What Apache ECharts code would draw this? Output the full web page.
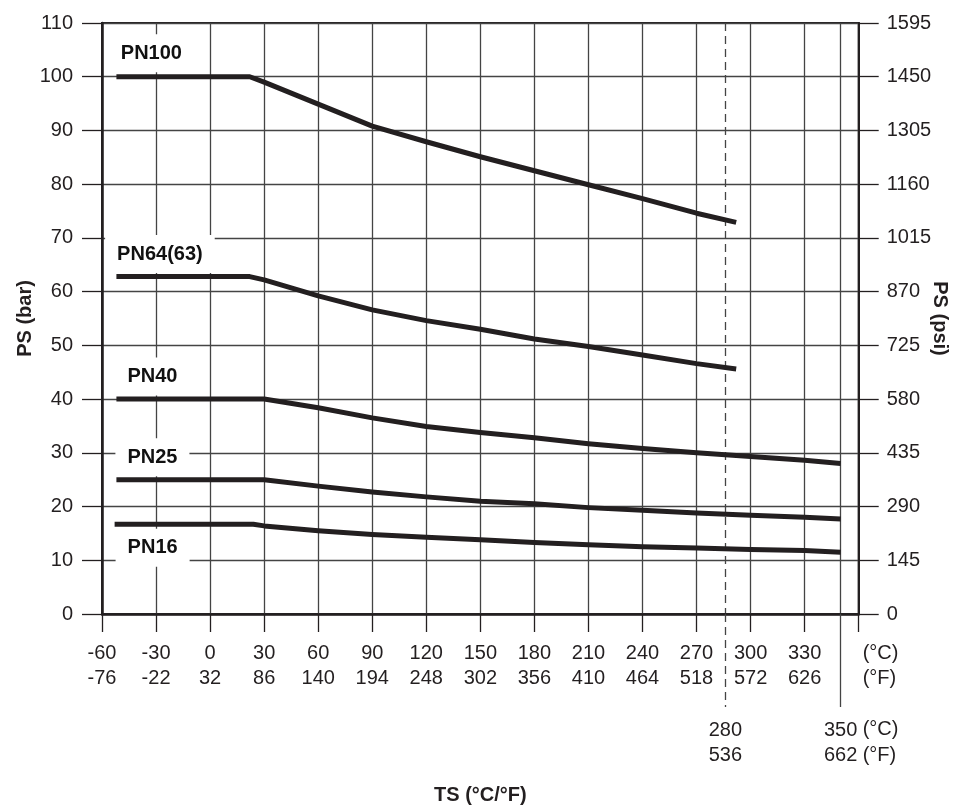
<!DOCTYPE html>
<html><head><meta charset="utf-8">
<script src="https://cdn.jsdelivr.net/npm/echarts@6/dist/echarts.min.js"></script>
<style>html,body{margin:0;padding:0;background:#fff}#c{width:953px;height:810px}</style>
</head><body><div id="c"></div>
<script>
// ---- tick labels ----
const xTicksC = [-60,-30,0,30,60,90,120,150,180,210,240,270,300,330];
const xTicksF = [-76,-22,32,86,140,194,248,302,356,410,464,518,572,626];
const yTicksBar = [0,10,20,30,40,50,60,70,80,90,100,110];
const yTicksPsi = [0,145,290,435,580,725,870,1015,1160,1305,1450,1595];
// marked temperatures (positions as drawn in the reference) and their labels
const refLineX = [286, 350];
const refLabelC = ['280', '350'];
const refLabelF = ['536', '662'];
// ---- series (TS °C, PS bar) ----
const seriesNames = ['PN100', 'PN64(63)', 'PN40', 'PN25', 'PN16'];
const pn100 = [[-52,100],[22,100],[30,99.0],[60,94.9],[90,90.8],[120,87.9],[150,85.1],[180,82.5],[210,79.9],[240,77.3],[270,74.6],[292,72.9]];
const pn64  = [[-52,62.8],[22,62.8],[30,62.2],[60,59.2],[90,56.6],[120,54.6],[150,53.0],[180,51.2],[210,49.8],[240,48.2],[270,46.6],[292,45.6]];
const pn40  = [[-52,40],[30,40],[60,38.4],[90,36.5],[120,34.9],[150,33.8],[180,32.8],[210,31.7],[240,30.8],[270,30.0],[300,29.3],[330,28.6],[350,28.0]];
const pn25  = [[-52,25],[30,25],[60,23.8],[90,22.7],[120,21.8],[150,21.0],[180,20.5],[210,19.8],[240,19.3],[270,18.8],[300,18.4],[330,18.0],[350,17.7]];
const pn16  = [[-53,16.7],[24,16.7],[30,16.4],[60,15.5],[90,14.8],[120,14.3],[150,13.8],[180,13.3],[210,12.9],[240,12.5],[270,12.3],[300,12.0],[330,11.8],[350,11.5]];
const seriesData = [pn100, pn64, pn40, pn25, pn16];

// label styling offsets (pixels from each curve's first point, box bottom-centre)
const labelOffsets = [[35,-4],[43.5,-3],[36,-3],[36,-3],[38,43]];

const INK = '#231f20';
const GRID = '#444';
const FONT = 'Liberation Sans, Arial, Helvetica, sans-serif';
const X_MIN = -60, X_MAX = 360;

const chart = echarts.init(document.getElementById('c'), null, {renderer: 'canvas'});

const baseX = {
  type: 'value', min: X_MIN, max: X_MAX, interval: 30, position: 'bottom', gridIndex: 0
};

const option = {
  animation: false,
  backgroundColor: '#fff',
  textStyle: {fontFamily: FONT, color: INK},
  grid: {
    left: 102, right: 94.3, top: 23, bottom: 196,
    containLabel: false, outerBoundsMode: 'none',
    show: true, borderColor: INK, borderWidth: 2, backgroundColor: 'transparent'
  },
  xAxis: [
    Object.assign({}, baseX, {
      name: 'TS (°C/°F)', nameLocation: 'middle', nameGap: 171, nameMoveOverlap: false,
      nameTextStyle: {fontSize: 20, fontWeight: 'bold', color: INK, fontFamily: FONT},
      axisLine: {show: true, onZero: false, lineStyle: {color: INK, width: 2.5}},
      axisTick: {show: true, inside: false, length: 18, lineStyle: {color: INK, width: 1.3}},
      splitLine: {show: true, lineStyle: {color: GRID, width: 1.3}},
      axisLabel: {
        show: true, margin: 26.25, fontSize: 20, lineHeight: 25.5, color: INK, fontFamily: FONT,
        showMinLabel: true, showMaxLabel: true, hideOverlap: false,
        formatter: function (v) {
          const i = xTicksC.indexOf(v);
          return i >= 0 ? xTicksC[i] + '\n' + xTicksF[i] : '';
        }
      }
    }),
    // dashed reference line (280 °C)
    Object.assign({}, baseX, {
      axisLine: {show: false},
      axisTick: {show: true, inside: false, length: 93, customValues: [refLineX[0]],
                 lineStyle: {color: GRID, width: 1.3, type: [8, 5]}},
      splitLine: {show: true, lineStyle: {color: GRID, width: 1.3, type: [8, 5]}},
      axisLabel: {
        show: true, customValues: refLineX, margin: 103.25, fontSize: 20, lineHeight: 25.5,
        color: INK, fontFamily: FONT, showMinLabel: true, showMaxLabel: true, hideOverlap: false,
        formatter: function (v) {
          const i = refLineX.indexOf(v);
          return i >= 0 ? refLabelC[i] + '\n' + refLabelF[i] : '';
        }
      }
    }),
    // solid reference line (350 °C)
    Object.assign({}, baseX, {
      axisLine: {show: false},
      axisTick: {show: true, inside: false, length: 93, customValues: [refLineX[1]],
                 lineStyle: {color: GRID, width: 1.3}},
      splitLine: {show: true, lineStyle: {color: GRID, width: 1.3}},
      axisLabel: {show: false}
    }),
    // unit labels at the right end
    Object.assign({}, baseX, {
      axisLine: {show: false},
      axisTick: {show: false},
      splitLine: {show: false},
      axisLabel: {
        show: true, customValues: [X_MAX], margin: 26.25, fontSize: 20, lineHeight: 25.5,
        color: INK, fontFamily: FONT, align: 'left', padding: [0, 0, 0, 4],
        showMinLabel: true, showMaxLabel: true, hideOverlap: false,
        formatter: function () { return '(°C)\n(°F)\n\n(°C)\n(°F)'; }
      }
    })
  ],
  yAxis: [
    {
      type: 'value', min: yTicksBar[0], max: yTicksBar[yTicksBar.length - 1], interval: yTicksBar[1] - yTicksBar[0],
      position: 'left',
      name: 'PS (bar)', nameLocation: 'middle', nameRotate: 90, nameGap: 67, nameMoveOverlap: false,
      nameTextStyle: {fontSize: 20, fontWeight: 'bold', color: INK, fontFamily: FONT},
      axisLine: {show: true, onZero: false, lineStyle: {color: INK, width: 2.5}},
      axisTick: {show: true, inside: false, length: 20, lineStyle: {color: INK, width: 1.3}},
      splitLine: {show: true, lineStyle: {color: GRID, width: 1.3}},
      axisLabel: {show: true, margin: 29, fontSize: 20, color: INK, fontFamily: FONT,
                  showMinLabel: true, showMaxLabel: true,
                  formatter: function (v) { const i = yTicksBar.indexOf(v); return i >= 0 ? String(yTicksBar[i]) : ''; }}
    },
    {
      type: 'value', min: yTicksPsi[0], max: yTicksPsi[yTicksPsi.length - 1], interval: yTicksPsi[1] - yTicksPsi[0],
      position: 'right',
      name: 'PS (psi)', nameLocation: 'middle', nameRotate: -90, nameGap: 71, nameMoveOverlap: false,
      nameTextStyle: {fontSize: 20, fontWeight: 'bold', color: INK, fontFamily: FONT},
      axisLine: {show: true, onZero: false, lineStyle: {color: INK, width: 2}},
      axisTick: {show: true, inside: false, length: 20, lineStyle: {color: INK, width: 1.3}},
      splitLine: {show: false},
      axisLabel: {show: true, margin: 28, fontSize: 20, color: INK, fontFamily: FONT,
                  showMinLabel: true, showMaxLabel: true,
                  formatter: function (v) { const i = yTicksPsi.indexOf(v); return i >= 0 ? String(yTicksPsi[i]) : ''; }}
    }
  ],
  series: [
    // curve name labels, anchored on each curve's first point
    {
      type: 'scatter', xAxisIndex: 0, yAxisIndex: 0, z: 2, silent: true,
      symbolSize: 1, itemStyle: {color: 'transparent'},
      data: seriesData.map(function (d, i) {
        return {
          value: d[0],
          label: {
            show: true, position: 'top', distance: 0, offset: labelOffsets[i],
            formatter: seriesNames[i], fontSize: 20, fontWeight: 'bold', color: '#111',
            opacity: 1, textBorderWidth: 0,
            fontFamily: FONT, lineHeight: 20, backgroundColor: '#fff', padding: [9, 12]
          }
        };
      })
    }
  ].concat(seriesData.map(function (d, i) {
    return {
      name: seriesNames[i], type: 'line', xAxisIndex: 0, yAxisIndex: 0, z: 3,
      data: d, showSymbol: false, symbol: 'none', smooth: false, silent: true,
      lineStyle: {color: INK, width: 5, join: 'round', cap: 'butt'}
    };
  }))
};
chart.setOption(option);
</script>
</body></html>
